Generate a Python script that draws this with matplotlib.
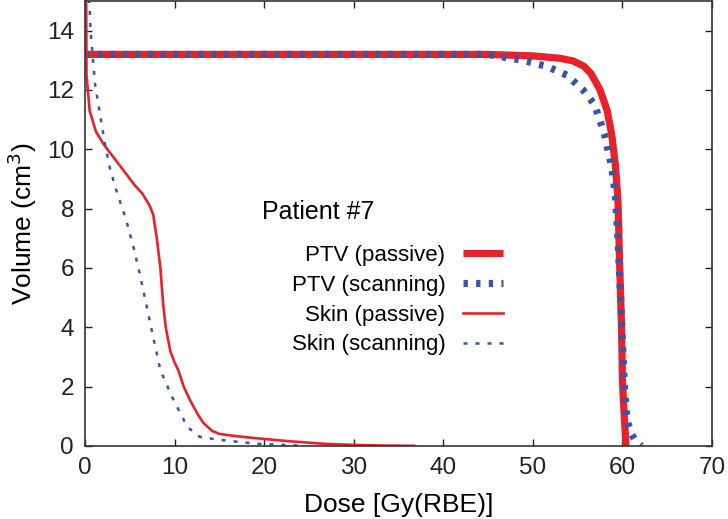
import matplotlib
matplotlib.use("Agg")
import matplotlib.pyplot as plt

plt.rcParams['font.family'] = ['Liberation Sans', 'DejaVu Sans']

# PTV passive
ptv_p_dose = [0, 45, 50, 53, 54.5, 55.7, 56.5, 57.5, 58.3, 58.8, 59.2, 59.5, 59.7, 59.9, 60.0, 60.2, 60.4]
ptv_p_vol = [13.2, 13.2, 13.15, 13.07, 12.98, 12.8, 12.55, 12.0, 11.3, 10.5, 9.5, 8.3, 6.0, 4.0, 2.2, 1.0, 0.0]

# PTV scanning
ptv_s_dose = [0, 45, 48.9, 51.5, 53.8, 55.6, 56.9, 58.0, 58.8, 59.2, 59.5, 59.8, 60.0, 60.2, 60.5, 61.0, 61.4, 62.1]
ptv_s_vol = [13.2, 13.2, 13.0, 12.8, 12.5, 12.0, 11.5, 10.5, 9.4, 8.5, 7.0, 5.0, 3.5, 2.1, 0.87, 0.4, 0.2, 0.0]

# Skin passive
skin_p_dose = [0.1, 0.15, 0.5, 1.2, 2.0, 2.6, 3.5, 4.5, 5.5, 6.4, 7.2, 7.6, 8.0, 8.4, 8.7, 9.0, 9.5,
               10.0, 10.4, 11.0, 11.7, 12.5, 13.2, 14.2, 15.0, 17.0, 20.0, 23.0, 26.6, 30.0, 33.0, 36.7]
skin_p_vol = [16.0, 12.5, 11.3, 10.6, 10.2, 9.95, 9.6, 9.2, 8.8, 8.5, 8.1, 7.8, 7.0, 6.0, 4.8, 4.0, 3.2,
              2.8, 2.55, 2.0, 1.55, 1.1, 0.77, 0.5, 0.4, 0.32, 0.23, 0.15, 0.07, 0.03, 0.01, 0.0]

# Skin scanning
skin_s_dose = [0.4, 0.6, 0.8, 1.1, 1.7, 2.2, 2.8, 3.6, 4.5, 5.4, 6.1, 6.8, 7.5, 8.4, 9.7, 11.4, 12.8,
               15.0, 19.2, 24.3]
skin_s_vol = [15.5, 14.0, 13.3, 12.2, 11.1, 10.2, 9.3, 8.5, 7.7, 6.7, 5.8, 4.8, 3.8, 2.55, 1.65, 0.64, 0.3,
              0.2, 0.07, 0.0]

labels = ["PTV (passive)", "PTV (scanning)", "Skin (passive)", "Skin (scanning)"]
x_ticks = [0, 10, 20, 30, 40, 50, 60, 70]
y_ticks = [0, 2, 4, 6, 8, 10, 12, 14]

red = "#E8212B"
blue = "#3B54A3"

fig = plt.figure(figsize=(7.28, 5.19), dpi=100)
ax = fig.add_axes([0.117, 0.141, 0.861, 0.857])

ax.plot(ptv_p_dose, ptv_p_vol, color=red, lw=5.2, solid_capstyle='butt', label=labels[0])
ax.plot(ptv_s_dose, ptv_s_vol, color=blue, lw=5.2, linestyle=(0, (0.6, 1.15)),
        dash_capstyle='butt', label=labels[1])
ax.plot(skin_p_dose, skin_p_vol, color=red, lw=1.9, label=labels[2])
ax.plot(skin_s_dose, skin_s_vol, color=blue, lw=1.8, linestyle=(0, (1.6, 3.2)),
        dash_capstyle='butt', label=labels[3])

ax.set_xlim(0, 70)
ax.set_ylim(0, 15)
ax.set_xticks(x_ticks)
ax.set_yticks(y_ticks)
ax.tick_params(direction='in', top=True, right=True, length=5, width=1, labelsize=17.5,
               colors='#222222', pad=8)
for s in ax.spines.values():
    s.set_color('#333333')
    s.set_linewidth(1.2)

ax.set_xlabel("Dose [Gy(RBE)]", fontsize=19, labelpad=10)
ax.set_ylabel("Volume (cm$^3$)", fontsize=19, labelpad=6)

ax.text(0.282, 0.526, "Patient #7", transform=ax.transAxes, fontsize=18, ha='left', va='center')
leg = ax.legend(loc='upper right', bbox_to_anchor=(0.667, 0.452), frameon=False, markerfirst=False,
                fontsize=16, handlelength=1.8, handletextpad=0.81, labelspacing=0.4,
                borderaxespad=0, borderpad=0)

fig.savefig("out.png", dpi=100)
